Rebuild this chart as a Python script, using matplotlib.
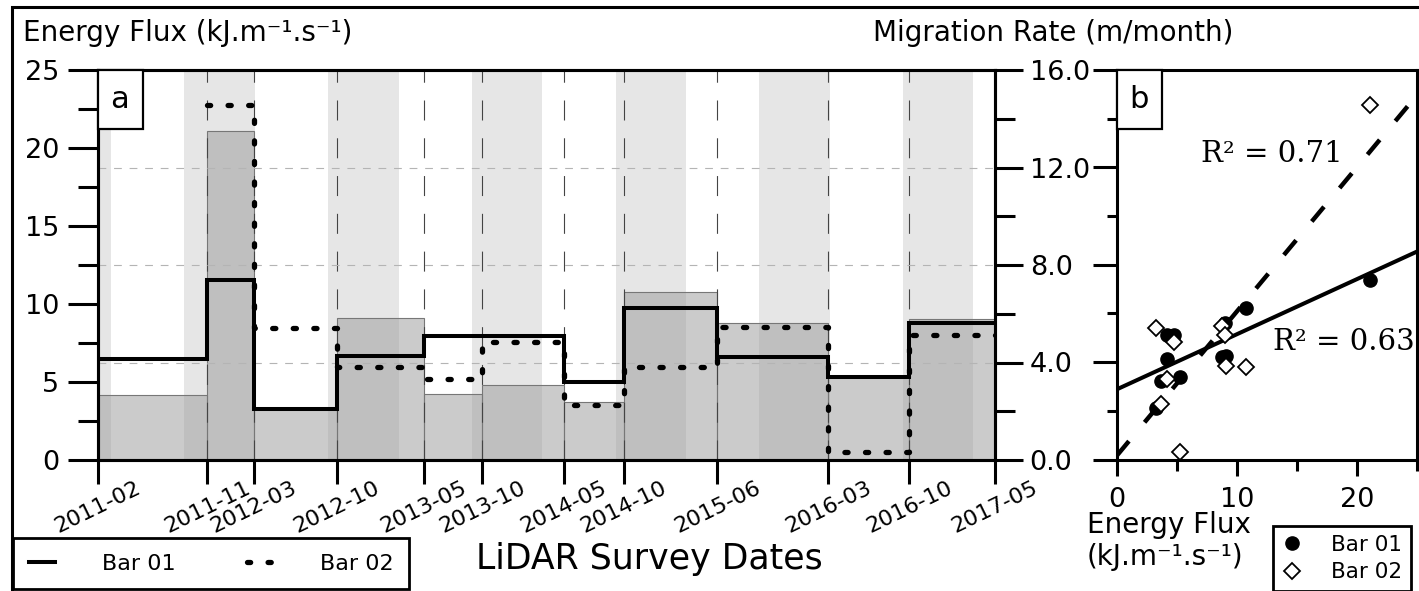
import numpy as np
import pandas as pd
import matplotlib
matplotlib.use("Agg")
import matplotlib.pyplot as plt
import matplotlib.dates as mdates
from matplotlib.patches import Rectangle
from matplotlib.ticker import MultipleLocator, FormatStrFormatter, NullFormatter

# LiDAR survey dates and the labels shown under them
survey_dates = ["2011-02-01", "2011-11-07", "2012-03-04", "2012-10-01", "2013-05-11",
                "2013-10-06", "2014-05-01", "2014-10-01", "2015-05-26", "2016-03-03",
                "2016-09-25", "2017-05-01"]
date_labels = ["2011-02", "2011-11", "2012-03", "2012-10", "2013-05", "2013-10",
               "2014-05", "2014-10", "2015-06", "2016-03", "2016-10", "2017-05"]

# mean energy flux between two surveys (kJ.m-1.s-1)
energy_flux = [4.15, 21.1, 3.3, 9.08, 4.23, 4.79, 3.7, 10.75, 8.76, 5.3, 9.02]
# bar migration rates for the same periods (m/month)
rate_bar01 = [4.13, 7.38, 2.10, 4.27, 5.10, 5.10, 3.21, 6.22, 4.21, 3.39, 5.61]
rate_bar02 = [np.nan, 14.56, 5.40, 3.83, 3.31, 4.84, 2.26, 3.80, 5.47, 0.31, 5.13]

# wet season shading, september to march
season_years = [2010, 2011, 2012, 2013, 2014, 2015, 2016]
season_start = "09-10"
season_end = "03-07"

r2_bar01 = "R² = 0.63"
r2_bar02 = "R² = 0.71"

W, H = 1419, 591
plt.rcParams['font.family'] = ['DejaVu Sans']
fig = plt.figure(figsize=(W / 100, H / 100), dpi=100)


def px_box(x0, y0, x1, y1):
    # pixel box (from top-left) -> figure fraction rect
    return [x0 / W, 1 - y1 / H, (x1 - x0) / W, (y1 - y0) / H]


ax = fig.add_axes(px_box(97.5, 70, 995, 460))
ax2 = ax.twinx()
axb = fig.add_axes(px_box(1116.7, 70, 1416.7, 459.5))

x = mdates.date2num(pd.to_datetime(survey_dates))

# seasons
for yr in season_years:
    s = mdates.date2num(pd.Timestamp(f"{yr}-{season_start}"))
    e = mdates.date2num(pd.Timestamp(f"{yr + 1}-{season_end}"))
    ax.axvspan(s, e, color='#e6e6e6', lw=0, zorder=0)

# energy flux bars
ax.bar(x[:-1], energy_flux, width=np.diff(x), align='edge',
       facecolor=(0.6, 0.6, 0.6, 0.5), edgecolor='#777777', linewidth=0.8, zorder=1)

for xi in x[1:-1]:
    ax.axvline(xi, color='#444444', lw=0.8, ls=(0, (18, 16)), zorder=2)

for v in [4, 8, 12]:
    ax2.axhline(v, color='#b4b4b4', lw=0.8, ls=(0, (7, 7)), zorder=1)

l1, = ax2.step(x, rate_bar01 + [rate_bar01[-1]], where='post', color='k', lw=2.9,
               solid_joinstyle='miter', zorder=4, label='Bar 01')
l2, = ax2.step(x, rate_bar02 + [rate_bar02[-1]], where='post', color='k', lw=3.8,
               ls=(0, (0.6, 3.3)), dash_capstyle='round', zorder=5, label='Bar 02')

ax.set_xlim(x[0], x[-1])
ax.set_ylim(0, 25)
ax2.set_ylim(0, 16)

ax.set_xticks(x)
ax.set_xticklabels(date_labels, rotation=26, ha='center', fontsize=16)
ax.tick_params(axis='x', direction='out', length=17, width=2.2, pad=-4)
ax.set_yticks(np.arange(0, 26, 5))
ax.yaxis.set_minor_locator(MultipleLocator(2.5))
ax.tick_params(axis='y', which='major', direction='out', length=21.6, width=2.2,
               labelsize=19.5, pad=6)
ax.tick_params(axis='y', which='minor', direction='out', length=14.4, width=2.2)

ax2.set_yticks(np.arange(0, 17, 4))
ax2.yaxis.set_major_formatter(FormatStrFormatter('%.1f'))
ax2.yaxis.set_minor_locator(MultipleLocator(2))
ax2.tick_params(axis='y', which='major', direction='out', length=20, width=2.2,
                labelsize=19.5, pad=5)
ax2.tick_params(axis='y', which='minor', direction='out', length=14.4, width=2.2)

for a in (ax, ax2, axb):
    for sp in a.spines.values():
        sp.set_linewidth(2.2)

ax.set_ylabel("Energy Flux (kJ.m⁻¹.s⁻¹)", rotation=0, fontsize=20, ha='left', va='baseline')
ax.yaxis.set_label_coords((23 - 97.5) / 897.5, (460 - 41) / 390)
ax2.set_ylabel("Migration Rate (m/month)", rotation=0, fontsize=20, ha='right', va='baseline')
ax2.yaxis.set_label_coords((1233 - 97.5) / 897.5, (460 - 41) / 390)
ax.set_xlabel("LiDAR Survey Dates", fontsize=25, ha='left', va='baseline')
ax.xaxis.set_label_coords((476 - 97.5) / 897.5, -(569 - 460) / 390)

# panel b: migration rate vs energy flux
fx = np.array(energy_flux)
r1 = np.array(rate_bar01)
r2 = np.array(rate_bar02)
ok = np.isfinite(r2)
xs = np.array([0, 25])
p1 = np.polyfit(fx, r1, 1)
p2 = np.polyfit(fx[ok], r2[ok], 1)
axb.plot(xs, np.polyval(p1, xs), color='k', lw=2.9, zorder=3)
axb.plot(xs, np.polyval(p2, xs), color='k', lw=3.2, ls=(0, (4.3, 5.5)), zorder=3)
s1, = axb.plot(fx, r1, 'o', color='k', ms=9.5, zorder=4, label='Bar 01')
s2, = axb.plot(fx, r2, 'D', mfc='white', mec='k', mew=1.3, ms=7.8, zorder=5, label='Bar 02')

axb.text(24.8, 4.49, r2_bar01, family='DejaVu Serif', fontsize=21, ha='right', va='baseline')
axb.text(7.0, 12.22, r2_bar02, family='DejaVu Serif', fontsize=21, ha='left', va='baseline')

axb.set_xlim(0, 25)
axb.set_ylim(0, 16)
axb.set_xticks([0, 10, 20])
axb.xaxis.set_minor_locator(MultipleLocator(5))
axb.tick_params(axis='x', which='major', direction='out', length=11.5, width=2.2,
                labelsize=19.5, pad=8.6)
axb.tick_params(axis='x', which='minor', direction='out', length=8, width=2.2)
axb.set_yticks(np.arange(0, 17, 4))
axb.yaxis.set_major_formatter(NullFormatter())
axb.yaxis.set_minor_locator(MultipleLocator(2))
axb.tick_params(axis='y', which='major', direction='out', length=17.3, width=2.2)
axb.tick_params(axis='y', which='minor', direction='out', length=7.2, width=2.2)
axb.set_xlabel("Energy Flux\n(kJ.m⁻¹.s⁻¹)", fontsize=20, ha='left', va='top')
axb.xaxis.set_label_coords((1087 - 1116.7) / 300, -(511 - 459.5) / 389.5)


def panel_tag(a, letter):
    pos = a.get_position()
    w = 45 / (pos.width * W)
    h = 59 / (pos.height * H)
    a.add_patch(Rectangle((0, 1 - h), w, h, transform=a.transAxes, fc='white', ec='k',
                          lw=1.6, zorder=10, clip_on=False))
    a.text(w / 2, 1 - h / 2, letter, transform=a.transAxes, ha='center', va='center',
           fontsize=22, zorder=11)


panel_tag(ax2, 'a')
panel_tag(axb, 'b')

leg1 = ax2.legend(handles=[l1, l2], labels=['Bar 01', 'Bar 02'], loc='upper left',
                  bbox_to_anchor=(13 / W, 1 - 538 / H), bbox_transform=fig.transFigure,
                  ncol=2, fancybox=False, edgecolor='k', framealpha=1, fontsize=16,
                  handlelength=1.2, handletextpad=2.1, columnspacing=3.2,
                  borderpad=0.7, borderaxespad=0)
leg1.get_frame().set_linewidth(2)

leg2 = axb.legend(handles=[s1, s2], labels=['Bar 01', 'Bar 02'], loc='upper left',
                  bbox_to_anchor=(1273 / W, 1 - 526 / H), bbox_transform=fig.transFigure,
                  numpoints=1, fancybox=False, edgecolor='k', framealpha=1, fontsize=15.5,
                  handlelength=1.0, handletextpad=1.3, labelspacing=0.35,
                  borderpad=0.4, borderaxespad=0)
leg2.get_frame().set_linewidth(2)

# outer frame
fig.add_artist(Rectangle((12 / W, -0.1), 1.2, 1.1 - 7 / H, transform=fig.transFigure,
                         fill=False, ec='k', lw=2.2, clip_on=False))

fig.savefig("out.png", dpi=100)
